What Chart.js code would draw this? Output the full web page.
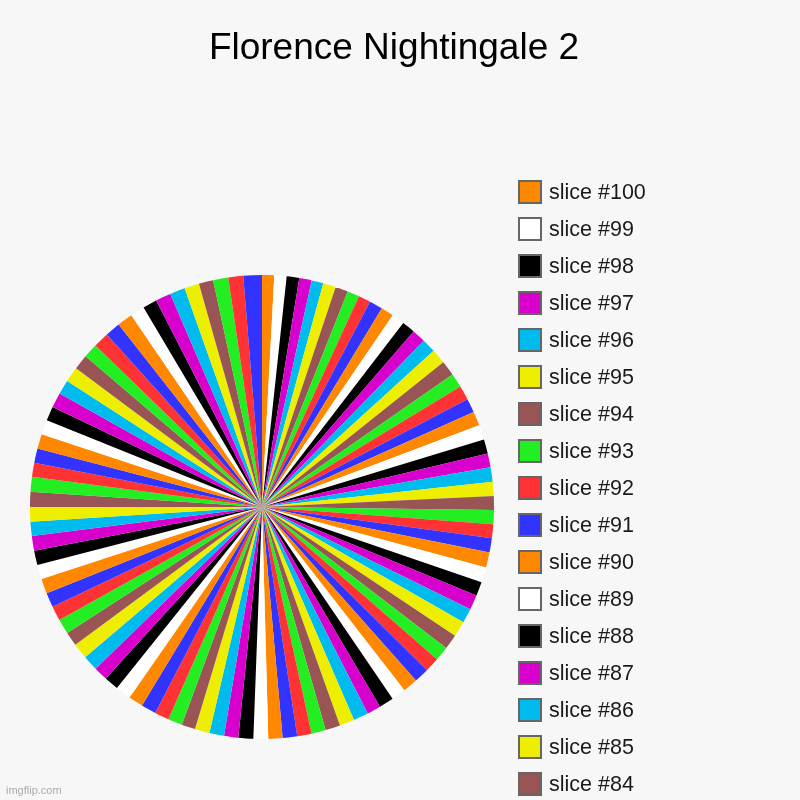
<!DOCTYPE html>
<html>
<head>
<meta charset="utf-8">
<script src="https://cdn.jsdelivr.net/npm/chart.js@4/dist/chart.umd.min.js"></script>
<style>
  html, body { margin: 0; padding: 0; background: #f7f7f7; overflow: hidden; }
  #wrap { position: relative; width: 800px; height: 800px; overflow: hidden; }
  #chart { position: absolute; left: 0; top: 0; }
  #title { position: absolute; left: -6px; top: 28px; width: 800px; text-align: center;
           font-family: "Liberation Sans", Arial, sans-serif; font-size: 37px; line-height: 37px; color: #000; }
  #legend { position: absolute; left: 518px; top: 180px; margin: 0; padding: 0; list-style: none;
            font-family: "Liberation Sans", Arial, sans-serif; font-size: 21.5px; color: #1a1a1a; }
  #legend li { height: 37px; display: flex; align-items: flex-start; white-space: nowrap; }
  #legend .box { width: 20px; height: 20px; border: 2px solid #666; margin-right: 7px; }
  #legend .txt { line-height: 24px; }
  #mark { position: absolute; left: 6px; top: 784px; font-family: "Liberation Sans", Arial, sans-serif;
          font-size: 11px; color: #aaa; }
</style>
</head>
<body>
<div id="wrap">
  <canvas id="chart" width="800" height="800"></canvas>
  <div id="title"></div>
  <ul id="legend"></ul>
  <div id="mark">imgflip.com</div>
</div>
<script>
const chartTitle = 'Florence Nightingale 2';

// slices listed the way the legend lists them: #100 first, clockwise from 12 o'clock
const sliceLabels = [];
for (let n = 100; n >= 1; n--) sliceLabels.push('slice #' + n);

// slice sizes (angular width of each slice, degrees)
const sliceValues = [
  3.04, 3.07, 3.14, 3.12, 2.95, 3.20, 3.16, 3.03, 3.03, 3.36,
  3.20, 3.20, 3.30, 3.40, 3.50, 3.70, 3.77, 3.56, 3.57, 3.50,
  3.60, 3.66, 3.59, 3.51, 3.58, 3.54, 3.46, 3.54, 3.46, 3.59,
  3.79, 3.80, 3.52, 3.68, 3.68, 3.90, 3.75, 3.58, 3.67, 3.74,
  3.69, 3.61, 3.68, 3.45, 3.76, 3.74, 3.71, 3.57, 3.61, 3.63,
  3.56, 3.69, 3.73, 3.55, 3.69, 3.68, 3.43, 3.59, 3.60, 3.74,
  3.68, 3.88, 3.61, 3.51, 3.84, 3.90, 3.53, 3.76, 3.67, 3.63,
  3.74, 3.63, 3.61, 3.66, 3.56, 3.64, 3.78, 3.72, 3.50, 3.60,
  3.66, 3.68, 3.56, 3.79, 3.60, 3.82, 3.79, 3.62, 3.91, 3.81,
  3.86, 3.60, 3.55, 3.85, 3.82, 3.71, 3.61, 3.78, 3.74, 4.64
];

// imgflip colour cycle, starting with slice #100
const palette = ['#ff8800', '#ffffff', '#000000', '#d800cc', '#00bbee',
                 '#eeee00', '#995555', '#22ee22', '#ff3333', '#3333ff'];
const sliceColors = sliceLabels.map((_, i) => palette[i % palette.length]);

document.addEventListener('DOMContentLoaded', () => {

    document.getElementById('title').textContent = chartTitle;

    // --- Pie (square area 30..494 x 275..739) ---
    new Chart(document.getElementById('chart').getContext('2d'), {
        type: 'pie',
        data: {
            labels: sliceLabels,
            datasets: [{
                data: sliceValues,
                backgroundColor: sliceColors,
                borderWidth: 0,
                hoverOffset: 0
            }]
        },
        options: {
            responsive: false,
            animation: false,
            layout: { padding: { left: 30, right: 306, top: 275, bottom: 61 } },
            plugins: {
                legend: { display: false },
                tooltip: { enabled: false },
                title: { display: false }
            }
        }
    });

    // --- Legend (runs off the bottom of the picture, like the original) ---
    const legend = document.getElementById('legend');
    sliceLabels.forEach((label, i) => {
        const li = document.createElement('li');
        li.innerHTML = `<span class="box" style="background:${sliceColors[i]}"></span><span class="txt">${label}</span>`;
        legend.appendChild(li);
    });
});
</script>
</body>
</html>
